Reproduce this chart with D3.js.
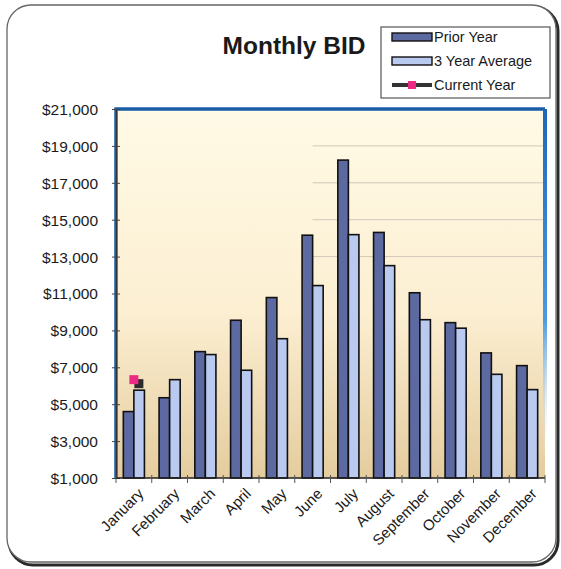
<!DOCTYPE html>
<html>
<head>
<meta charset="utf-8">
<script src="https://cdn.jsdelivr.net/npm/d3@7"></script>
<style>
  html, body { margin: 0; padding: 0; background: #ffffff; }
  svg { display: block; font-family: Arial, "Liberation Sans", sans-serif; }
</style>
</head>
<body>
<svg id="chart"></svg>
<script>
const months = ["January", "February", "March", "April", "May", "June",
  "July", "August", "September", "October", "November", "December"];
const priorYear = [4600, 5350, 7850, 9550, 10780, 14160, 18230, 14310, 11040, 9420, 7780, 7090];
const threeYearAvg = [5760, 6330, 7690, 6840, 8550, 11430, 14190, 12510, 9580, 9120, 6620, 5790];
const currentYear = [6330];
const yTicks = [1000, 3000, 5000, 7000, 9000, 11000, 13000, 15000, 17000, 19000, 21000];
const seriesNames = ["Prior Year", "3 Year Average", "Current Year"];

const width = 561;
const height = 569;
const margin = { top: 109, right: 16, bottom: 91, left: 116 };

const svg = d3.select("#chart").attr("width", width).attr("height", height);

const defs = svg.append("defs");
const bg = defs.append("linearGradient").attr("id", "plotBg")
  .attr("x1", 0).attr("y1", 0).attr("x2", 0).attr("y2", 1);
bg.append("stop").attr("offset", "0%").attr("stop-color", "#fffae6");
bg.append("stop").attr("offset", "55%").attr("stop-color", "#fcefd2");
bg.append("stop").attr("offset", "100%").attr("stop-color", "#e4cc9e");

const edge = defs.append("linearGradient").attr("id", "rightEdge")
  .attr("x1", 0).attr("y1", 0).attr("x2", 0).attr("y2", 1);
edge.append("stop").attr("offset", "0%").attr("stop-color", "#1f66b8");
edge.append("stop").attr("offset", "60%").attr("stop-color", "#4a9ae0");
edge.append("stop").attr("offset", "100%").attr("stop-color", "#ffffff").attr("stop-opacity", 0);

// outer frame with shadow
svg.append("rect")
  .attr("x", 9).attr("y", 7).attr("width", 549).attr("height", 558)
  .attr("rx", 24)
  .attr("fill", "none").attr("stroke", "#2a2a2a").attr("stroke-width", 3);
svg.append("rect")
  .attr("x", 7).attr("y", 5).attr("width", 549).attr("height", 557)
  .attr("rx", 24)
  .attr("fill", "#ffffff").attr("stroke", "#666").attr("stroke-width", 1.3);

const plotW = width - margin.left - margin.right;
const plotH = height - margin.top - margin.bottom;
const g = svg.append("g").attr("transform", `translate(${margin.left},${margin.top})`);

const x = d3.scaleBand().domain(months).range([0, plotW])
  .paddingInner(0.41).paddingOuter(0.205);
const xs = d3.scaleBand().domain([0, 1]).range([0, x.bandwidth()]);
const y = d3.scaleLinear().domain([1000, 21000]).range([plotH, 0]);

g.append("rect")
  .attr("width", plotW).attr("height", plotH)
  .attr("fill", "url(#plotBg)");

// faint gridlines (only the upper ones show in the original)
g.selectAll(".grid").data(yTicks.slice(6, -1)).join("line")
  .attr("x1", x("June") + x.bandwidth() / 2).attr("x2", plotW)
  .attr("y1", d => y(d)).attr("y2", d => y(d))
  .attr("stroke", "#a9a69c").attr("stroke-opacity", 0.55).attr("stroke-width", 1);

// bars
const bars = [
  { values: priorYear, fill: "#5d6aa2" },
  { values: threeYearAvg, fill: "#b9c9ef" }
];
bars.forEach((s, si) => {
  g.selectAll(".bar" + si).data(s.values).join("rect")
    .attr("x", (d, i) => x(months[i]) + xs(si))
    .attr("y", d => y(d))
    .attr("width", xs.bandwidth())
    .attr("height", d => y(1000) - y(d))
    .attr("fill", s.fill)
    .attr("stroke", "#111").attr("stroke-width", 1.6);
});

// current year markers with shadow
g.selectAll(".cyShadow").data(currentYear).join("rect")
  .attr("x", (d, i) => x(months[i]) + x.bandwidth() / 2 - 4.5 + 5)
  .attr("y", d => y(d) - 4.5 + 4)
  .attr("width", 9).attr("height", 9)
  .attr("fill", "#2b2b2b");
g.selectAll(".cy").data(currentYear).join("rect")
  .attr("x", (d, i) => x(months[i]) + x.bandwidth() / 2 - 4.5)
  .attr("y", d => y(d) - 4.5)
  .attr("width", 9).attr("height", 9)
  .attr("fill", "#ec2a82");

// blue border: top and left, fading right edge
g.append("path")
  .attr("d", `M0,${plotH} L0,0 L${plotW},0`)
  .attr("fill", "none").attr("stroke", "#1a5ca8").attr("stroke-width", 3.5);
g.append("rect")
  .attr("x", plotW - 2).attr("y", 0).attr("width", 4).attr("height", plotH * 0.95)
  .attr("fill", "url(#rightEdge)");

// y axis
const yAxis = g.append("g")
  .call(d3.axisLeft(y).tickValues(yTicks).tickSize(4)
    .tickFormat(d => "$" + d3.format(",")(d)));
yAxis.select(".domain").attr("stroke", "#333");
yAxis.selectAll(".tick line").attr("x2", 4).attr("x1", -4).attr("stroke", "#444");
yAxis.selectAll(".tick text")
  .attr("x", -18).attr("dy", "0.35em")
  .attr("font-size", 15.5).attr("fill", "#1a1a1a")
  .attr("font-family", "Arial, 'Liberation Sans', sans-serif");

// x axis
const step = x.step();
const boundaries = d3.range(months.length + 1).map(i => i * step);
const xAxis = g.append("g").attr("transform", `translate(0,${plotH})`);
xAxis.append("line").attr("x1", 0).attr("x2", plotW)
  .attr("stroke", "#222").attr("stroke-width", 1.5);
xAxis.selectAll(".btick").data(boundaries).join("line")
  .attr("x1", d => d).attr("x2", d => d)
  .attr("y1", -3).attr("y2", 5)
  .attr("stroke", "#555");
xAxis.selectAll(".mlabel").data(months).join("text")
  .attr("transform", d => `translate(${x(d) + x.bandwidth() / 2 + 7},${13}) rotate(-45)`)
  .attr("text-anchor", "end")
  .attr("dy", "0.35em")
  .attr("font-size", 15)
  .attr("fill", "#1a1a1a")
  .text(d => d);

// title
svg.append("text")
  .attr("x", 294).attr("y", 54)
  .attr("text-anchor", "middle")
  .attr("font-size", 24.5).attr("font-weight", "bold").attr("fill", "#1a1a1a")
  .text("Monthly BID");

// legend
const legend = svg.append("g").attr("transform", "translate(381,27)");
legend.append("rect").attr("width", 169).attr("height", 71)
  .attr("fill", "#ffffff").attr("stroke", "#555").attr("stroke-width", 1.2);
const rows = legend.selectAll(".row").data(seriesNames).join("g")
  .attr("transform", (d, i) => `translate(11,${10 + i * 24})`);
rows.each(function (d, i) {
  const r = d3.select(this);
  if (i < 2) {
    r.append("rect").attr("x", 0).attr("y", -4).attr("width", 40).attr("height", 8)
      .attr("fill", bars[i].fill).attr("stroke", "#111").attr("stroke-width", 1.4);
  } else {
    r.append("line").attr("x1", 0).attr("x2", 40).attr("y1", 0).attr("y2", 0)
      .attr("stroke", "#333").attr("stroke-width", 4);
    r.append("rect").attr("x", 16).attr("y", -4).attr("width", 8).attr("height", 8)
      .attr("fill", "#ec2a82");
  }
  r.append("text").attr("x", 42).attr("y", 0).attr("dy", "0.35em")
    .attr("font-size", 14.5).attr("fill", "#1a1a1a").text(d);
});
</script>
</body>
</html>
